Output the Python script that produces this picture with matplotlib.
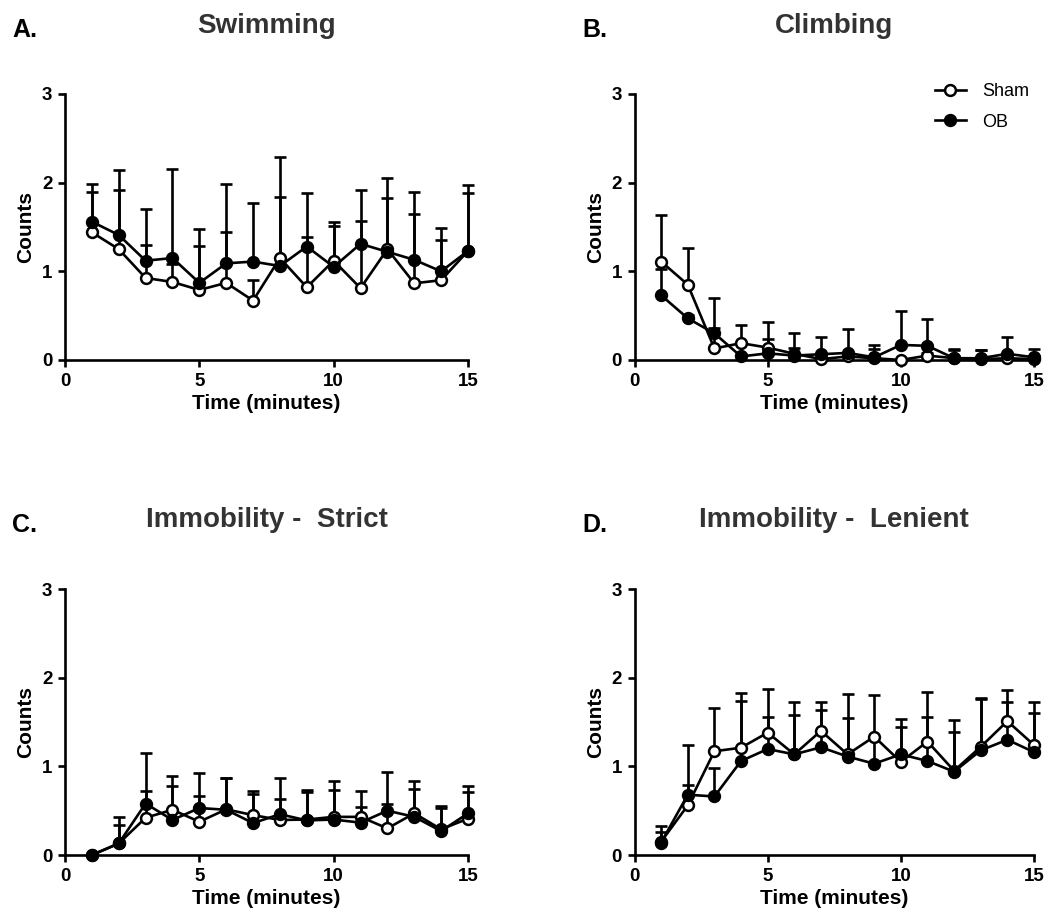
import numpy as np
import matplotlib
matplotlib.use("Agg")
import matplotlib.pyplot as plt

plt.rcParams['font.family'] = ['Liberation Sans', 'DejaVu Sans']

# ---- data: mean counts per minute and upper error (SEM) ----
minutes = np.arange(1, 16)

swim_sham = [1.44, 1.25, 0.925, 0.88, 0.79, 0.87, 0.67, 1.15, 0.82, 1.12, 0.81, 1.25, 0.865, 0.90, 1.23]
swim_sham_err = [0.46, 0.67, 0.375, 0.20, 0.50, 0.57, 0.23, 1.14, 0.57, 0.44, 0.76, 0.80, 0.785, 0.45, 0.74]
swim_ob = [1.56, 1.41, 1.12, 1.15, 0.87, 1.09, 1.11, 1.06, 1.28, 1.05, 1.31, 1.22, 1.13, 1.00, 1.23]
swim_ob_err = [0.42, 0.73, 0.58, 1.00, 0.61, 0.90, 0.66, 0.775, 0.60, 0.46, 0.61, 0.61, 0.77, 0.49, 0.65]

climb_sham = [1.11, 0.85, 0.13, 0.19, 0.14, 0.07, 0.01, 0.04, 0.02, 0.00, 0.05, 0.02, 0.01, 0.02, 0.01]
climb_sham_err = [0.52, 0.41, 0.23, 0.21, 0.29, 0.23, 0.03, 0.03, 0.105, 0.00, 0.03, 0.10, 0.10, 0.03, 0.03]
climb_ob = [0.73, 0.47, 0.30, 0.04, 0.075, 0.05, 0.065, 0.08, 0.03, 0.17, 0.16, 0.02, 0.02, 0.07, 0.03]
climb_ob_err = [0.30, 0.04, 0.40, 0.03, 0.165, 0.08, 0.195, 0.27, 0.14, 0.385, 0.30, 0.09, 0.09, 0.19, 0.095]

strict_sham = [0.00, 0.13, 0.42, 0.51, 0.375, 0.515, 0.45, 0.395, 0.40, 0.43, 0.43, 0.30, 0.47, 0.29, 0.41]
strict_sham_err = [0.00, 0.295, 0.30, 0.38, 0.285, 0.35, 0.27, 0.235, 0.33, 0.40, 0.29, 0.28, 0.36, 0.26, 0.305]
strict_ob = [0.00, 0.13, 0.58, 0.395, 0.53, 0.51, 0.36, 0.46, 0.39, 0.40, 0.365, 0.50, 0.43, 0.27, 0.47]
strict_ob_err = [0.00, 0.21, 0.57, 0.385, 0.39, 0.355, 0.33, 0.405, 0.325, 0.33, 0.18, 0.44, 0.31, 0.26, 0.31]

lenient_sham = [0.15, 0.56, 1.17, 1.21, 1.38, 1.135, 1.40, 1.135, 1.335, 1.05, 1.28, 0.95, 1.22, 1.51, 1.24]
lenient_sham_err = [0.18, 0.68, 0.49, 0.62, 0.49, 0.585, 0.32, 0.685, 0.465, 0.48, 0.56, 0.57, 0.55, 0.35, 0.49]
lenient_ob = [0.14, 0.68, 0.66, 1.06, 1.195, 1.135, 1.215, 1.11, 1.03, 1.135, 1.06, 0.94, 1.18, 1.30, 1.16]
lenient_ob_err = [0.12, 0.11, 0.32, 0.68, 0.365, 0.445, 0.415, 0.44, 0.30, 0.305, 0.50, 0.45, 0.58, 0.42, 0.44]

panel_letters = ["A.", "B.", "C.", "D."]
panel_titles = ["Swimming", "Climbing", "Immobility -  Strict", "Immobility -  Lenient"]
group_names = ["Sham", "OB"]
x_ticks = [0, 5, 10, 15]
y_ticks = [0, 1, 2, 3]

panels = [
    (swim_sham, swim_sham_err, swim_ob, swim_ob_err),
    (climb_sham, climb_sham_err, climb_ob, climb_ob_err),
    (strict_sham, strict_sham_err, strict_ob, strict_ob_err),
    (lenient_sham, lenient_sham_err, lenient_ob, lenient_ob_err),
]

W, H = 1057, 922
fig = plt.figure(figsize=(W / 100, H / 100), dpi=100)

# axes boxes in pixels: left, bottom(y of 0), right, top(y of 3)
boxes = [(65, 360, 468, 94), (634.5, 360, 1034, 94),
         (65, 855, 468, 589), (634.5, 855, 1034, 589)]
letter_pos = [(12, 37), (582, 37), (12, 532), (582, 532)]
title_base = [33, 33, 527, 527]

LW = 1.9
handles = []
for i, (ax_box, data) in enumerate(zip(boxes, panels)):
    l, b, r, t = ax_box
    ax = fig.add_axes([l / W, 1 - b / H, (r - l) / W, (b - t) / H])
    sham, sham_err, ob, ob_err = [np.asarray(v, dtype=float) for v in data]
    zeros = np.zeros_like(sham)

    # upward-only error bars sit underneath all lines and symbols
    for mean, err in ((sham, sham_err), (ob, ob_err)):
        eb = ax.errorbar(minutes, mean, yerr=[zeros, err], fmt='none', ecolor='black',
                         elinewidth=LW, capsize=4.3, capthick=LW, zorder=2)
        for art in eb.lines[1] + eb.lines[2]:
            art.set_clip_on(False)
    hs = []
    for k, (mean, face) in enumerate(((sham, 'white'), (ob, 'black'))):
        ln, = ax.plot(minutes, mean, '-', color='black', lw=LW, marker='o',
                      ms=7.8, mfc=face, mec='black', mew=1.8,
                      zorder=3 + k, clip_on=False, label=group_names[k])
        hs.append(ln)
    if i == 1:
        handles = hs

    ax.set_xlim(0, 15)
    ax.set_ylim(0, 3)
    ax.set_xticks(x_ticks)
    ax.set_yticks(y_ticks)
    for s in ('top', 'right'):
        ax.spines[s].set_visible(False)
    for s in ('left', 'bottom'):
        ax.spines[s].set_linewidth(LW)
    ax.tick_params(direction='out', length=5, width=LW, labelsize=13.5, pad=4)
    for lab in ax.get_xticklabels() + ax.get_yticklabels():
        lab.set_fontweight('bold')
    ax.set_xlabel("Time (minutes)", fontsize=15, fontweight='bold', labelpad=3)
    ax.set_ylabel("Counts", fontsize=15, fontweight='bold', labelpad=5)

    lx, ly = letter_pos[i]
    fig.text(lx / W, 1 - ly / H, panel_letters[i], fontsize=18, fontweight='bold',
             color='black', ha='left', va='baseline')
    fig.text(((l + r) / 2) / W, 1 - title_base[i] / H, panel_titles[i], fontsize=20,
             fontweight='bold', color='#333333', ha='center', va='baseline')

fig.legend(handles=handles, labels=group_names, loc='upper left',
           bbox_to_anchor=(935 / W, 1 - 83 / H), frameon=False, fontsize=13,
           borderpad=0, handlelength=1.7, handletextpad=0.9, labelspacing=0.75,
           borderaxespad=0)

fig.savefig("out.png", dpi=100, facecolor='white')
